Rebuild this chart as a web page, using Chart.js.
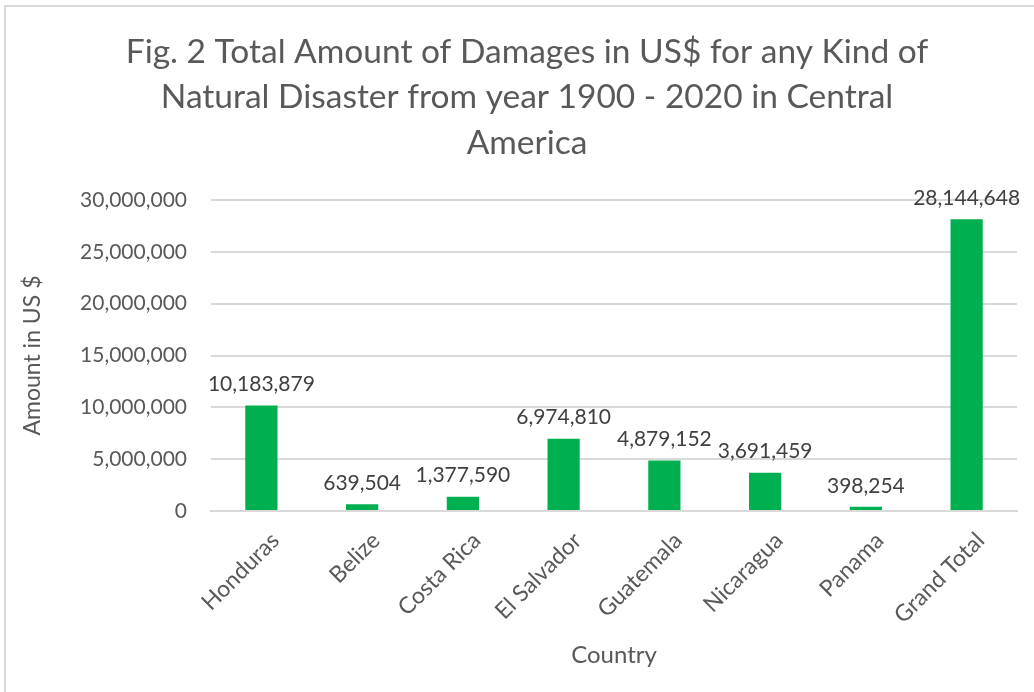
<!DOCTYPE html>
<html>
<head>
<meta charset="utf-8">
<script src="https://cdn.jsdelivr.net/npm/chart.js@4.4.1/dist/chart.umd.min.js"></script>
<style>
  html, body { margin: 0; padding: 0; background: #fff; }
  #wrap { position: relative; width: 1034px; height: 692px; }
  #frame { position: absolute; left: 4px; top: 5px; width: 1040px; height: 700px; border-left: 2px solid #d9d9d9; border-top: 2px solid #d9d9d9; box-sizing: border-box; pointer-events: none; }
  canvas { position: absolute; left: 0; top: 0; }
</style>
</head>
<body>
<div id="wrap">
  <canvas id="c" width="1034" height="692"></canvas>
  <div id="frame"></div>
</div>
<script>
const categories = ["Honduras", "Belize", "Costa Rica", "El Salvador", "Guatemala", "Nicaragua", "Panama", "Grand Total"];
const damages = [10183879, 639504, 1377590, 6974810, 4879152, 3691459, 398254, 28144648];
const titleLines = ["Fig. 2 Total Amount of Damages in US$ for any Kind of", "Natural Disaster from year 1900 - 2020 in Central", "America"];
const yAxisTitle = "Amount in US $";
const xAxisTitle = "Country";

const FONT = "Lato, 'Open Sans', sans-serif";
const fmt = v => v.toLocaleString("en-US");

const titlePlugin = {
  id: "titleDraw",
  afterDraw(chart) {
    const ctx = chart.ctx;
    ctx.save();
    ctx.fillStyle = "#595959";
    ctx.font = "33.5px " + FONT;
    ctx.textAlign = "center";
    ctx.textBaseline = "middle";
    const cx = chart.width / 2 + 10;
    titleLines.forEach((t, i) => ctx.fillText(t, cx, 52 + i * 45.5));
    ctx.restore();
  }
};

const labelPlugin = {
  id: "valueLabels",
  afterDatasetsDraw(chart) {
    const ctx = chart.ctx;
    const meta = chart.getDatasetMeta(0);
    ctx.save();
    ctx.fillStyle = "#404040";
    ctx.font = "21px " + FONT;
    ctx.textAlign = "center";
    ctx.textBaseline = "middle";
    meta.data.forEach((bar, i) => {
      ctx.fillText(fmt(damages[i]), bar.x, bar.y - 21);
    });
    ctx.restore();
  }
};

new Chart(document.getElementById("c"), {
  type: "bar",
  data: {
    labels: categories,
    datasets: [{
      data: damages,
      backgroundColor: "#00B050",
      borderWidth: 0,
      barPercentage: 0.64,
      categoryPercentage: 0.5
    }]
  },
  options: {
    responsive: false,
    animation: false,
    layout: { padding: { top: 200, left: 0, right: 17, bottom: 22 } },
    plugins: { legend: { display: false }, tooltip: { enabled: false }, title: { display: false } },
    scales: {
      x: {
        grid: { display: false, drawTicks: false },
        border: { display: true, color: "#d9d9d9", width: 2 },
        ticks: { color: "#595959", font: { family: FONT, size: 23 }, maxRotation: 45, minRotation: 45, padding: 16, labelOffset: 14 },
        title: { display: true, text: xAxisTitle, color: "#595959", font: { family: FONT, size: 24 }, padding: { top: 0, bottom: 0 } },
        afterFit(scale) { scale.height = 159; }
      },
      y: {
        min: 0, max: 30000000,
        grid: { color: "#d9d9d9", lineWidth: 2, drawTicks: false },
        border: { display: false },
        ticks: { stepSize: 5000000, color: "#595959", font: { family: FONT, size: 21 }, padding: 24, callback: v => fmt(v) },
        title: { display: true, text: yAxisTitle, color: "#595959", font: { family: FONT, size: 23 }, padding: { top: 19, bottom: 0 } },
        afterFit(scale) { scale.width = 211; }
      }
    }
  },
  plugins: [titlePlugin, labelPlugin]
});
</script>
</body>
</html>
